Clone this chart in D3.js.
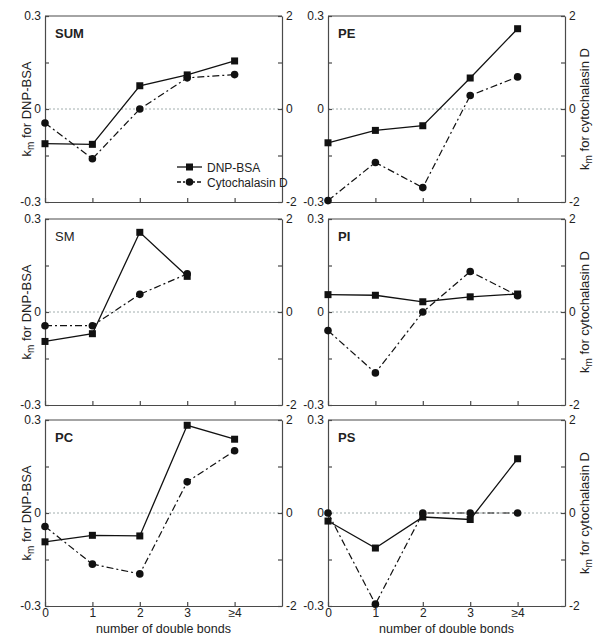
<!DOCTYPE html>
<html><head><meta charset="utf-8">
<script src="https://cdn.jsdelivr.net/npm/d3@7"></script>
<style>body{margin:0;background:#fff}svg{display:block}text{font-family:"Liberation Sans",Arial,sans-serif;fill:#222}</style>
</head><body><svg id="c" width="601" height="643"></svg>
<script>
const categories = ["0","1","2","3","≥4"];
const panelNames = ["SUM","PE","SM","PI","PC","PS"];
const boldNames = [true,true,false,true,true,true];
const dnpSUM = [-0.112,-0.114,0.075,0.11,0.155];
const cytoSUM = [-0.30,-1.07,0.0,0.67,0.74];
const dnpPE = [-0.109,-0.069,-0.054,0.10,0.259];
const cytoPE = [-1.97,-1.15,-1.69,0.29,0.69];
const dnpSM = [-0.095,-0.070,0.257,0.115];
const cytoSM = [-0.295,-0.295,0.38,0.82];
const dnpPI = [0.056,0.054,0.033,0.049,0.058];
const cytoPI = [-0.40,-1.31,0.0,0.87,0.35];
const dnpPC = [-0.093,-0.072,-0.074,0.283,0.238];
const cytoPC = [-0.29,-1.10,-1.31,0.67,1.34];
const dnpPS = [-0.026,-0.113,-0.013,-0.021,0.175];
const cytoPS = [0.0,-1.96,0.0,0.0,0.0];
const leftTicks = [-0.3,-0.15,0,0.15,0.3];
const leftTickLabels = ["-0.3","","0","","0.3"];
const rightTicks = [-2,-1,0,1,2];
const rightTickLabels = ["-2","","0","","2"];
const seriesNames = ["DNP-BSA","Cytochalasin D"];

const dnpAll = [dnpSUM,dnpPE,dnpSM,dnpPI,dnpPC,dnpPS];
const cytoAll = [cytoSUM,cytoPE,cytoSM,cytoPI,cytoPC,cytoPS];

const svg = d3.select("#c");
const colX = [45,328], W = 237;
const rowY = [16,219,420], H = 186;
const axisCol = "#4a4a4a";
const FS = "12px";

panelNames.forEach((name,i)=>{
  const col = i%2, row = Math.floor(i/2);
  const g = svg.append("g").attr("transform",`translate(${colX[col]},${rowY[row]})`);
  const x = d3.scaleLinear().domain([0,5]).range([0,W]);
  const yL = d3.scaleLinear().domain([-0.3,0.3]).range([H,0]);
  const yR = d3.scaleLinear().domain([-2,2]).range([H,0]);

  // zero line
  g.append("line").attr("x1",0).attr("x2",W).attr("y1",yL(0)).attr("y2",yL(0))
    .attr("stroke","#8a9a9a").attr("stroke-width",0.8).attr("stroke-dasharray","2,2");

  // axes
  const axL = d3.axisLeft(yL).tickValues(leftTicks).tickSizeInner(-4).tickSizeOuter(0)
     .tickFormat((d,k)=>leftTickLabels[k]).tickPadding(4);
  const axR = d3.axisRight(yR).tickValues(rightTicks).tickSizeInner(-4).tickSizeOuter(0)
     .tickFormat((d,k)=>rightTickLabels[k]).tickPadding(4);
  const axB = d3.axisBottom(x).tickValues([0,1,2,3,4]).tickSizeInner(-4).tickSizeOuter(0)
     .tickFormat((d)=> row===2 ? categories[d] : "").tickPadding(4);
  const gl = g.append("g").call(axL);
  const gr = g.append("g").attr("transform",`translate(${W},0)`).call(axR);
  const gb = g.append("g").attr("transform",`translate(0,${H})`).call(axB);
  [gl,gr,gb].forEach(a=>{
    a.selectAll("path,line").attr("stroke",axisCol).attr("stroke-width",1.2);
    a.selectAll("text").style("font-size",FS).style("fill","#222").style("font-family","Liberation Sans, Arial, sans-serif");
  });
  gb.selectAll("text").attr("dy","0.6em");
  // top border
  g.append("line").attr("x1",0).attr("x2",W).attr("y1",0).attr("y2",0).attr("stroke",axisCol).attr("stroke-width",1.2);

  // label
  g.append("text").attr("x",10).attr("y",22).text(name)
    .style("font-size","13px").style("font-weight",boldNames[i]?"bold":"normal");

  // axis titles
  if(col===0){
    const t = g.append("text").attr("transform",`translate(-14,${H/2}) rotate(-90)`).attr("text-anchor","middle").style("font-size","13px");
    t.append("tspan").text("k");
    t.append("tspan").text("m").attr("dy",3).style("font-size","10px");
    t.append("tspan").text(" for DNP-BSA").attr("dy",-3);
  } else {
    const t = g.append("text").attr("transform",`translate(${W+24},${H/2}) rotate(-90)`).attr("text-anchor","middle").style("font-size","13px");
    t.append("tspan").text("k");
    t.append("tspan").text("m").attr("dy",3).style("font-size","10px");
    t.append("tspan").text(" for cytochalasin D").attr("dy",-3);
  }
  if(row===2){
    g.append("text").attr("x",W/2).attr("y",H+27).attr("text-anchor","middle").style("font-size","12.5px").text("number of double bonds");
  }

  // series
  const dnp = dnpAll[i], cyto = cytoAll[i];
  const lineL = d3.line().x((d,k)=>x(k)).y(d=>yL(d));
  const lineR = d3.line().x((d,k)=>x(k)).y(d=>yR(d));
  g.append("path").datum(cyto).attr("d",lineR).attr("fill","none").attr("stroke","#111")
    .attr("stroke-width",1.2).attr("stroke-dasharray","7,3,2,3");
  g.append("path").datum(dnp).attr("d",lineL).attr("fill","none").attr("stroke","#111").attr("stroke-width",1.3);
  g.selectAll(".sq").data(dnp).enter().append("rect")
    .attr("x",(d,k)=>x(k)-3.5).attr("y",d=>yL(d)-3.5).attr("width",7).attr("height",7).attr("fill","#111");
  g.selectAll(".ci").data(cyto).enter().append("circle")
    .attr("cx",(d,k)=>x(k)).attr("cy",d=>yR(d)).attr("r",3.8).attr("fill","#111");

  // legend
  if(i===0){
    const lg = g.append("g").attr("transform",`translate(132,151)`);
    seriesNames.forEach((s,k)=>{
      const yy = k*15;
      lg.append("line").attr("x1",0).attr("x2",25).attr("y1",yy).attr("y2",yy).attr("stroke","#111")
        .attr("stroke-width",1.3).attr("stroke-dasharray",k===0?null:"4,2,2,2");
      if(k===0) lg.append("rect").attr("x",9).attr("y",yy-3.5).attr("width",7).attr("height",7).attr("fill","#111");
      else lg.append("circle").attr("cx",12.5).attr("cy",yy).attr("r",3.8).attr("fill","#111");
      lg.append("text").attr("x",30).attr("y",yy+4.5).style("font-size","12px").text(s);
    });
  }
});
</script></body></html>
